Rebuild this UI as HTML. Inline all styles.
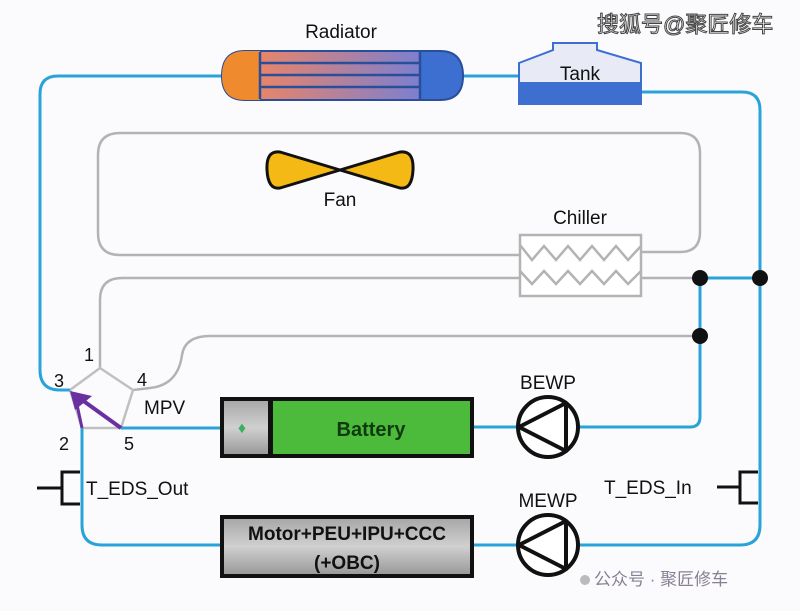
<!DOCTYPE html>
<html><head><meta charset="utf-8"><style>
body{margin:0;background:#fbfbfd;}
svg{display:block;font-family:"Liberation Sans","Noto Sans CJK SC",sans-serif;}
</style></head><body>
<svg width="800" height="611" viewBox="0 0 800 611">
<defs>
<linearGradient id="rad" x1="0" x2="1"><stop offset="0" stop-color="#e8846a"/><stop offset="1" stop-color="#7d7fd0"/></linearGradient>
<linearGradient id="gr" x1="0" y1="0" x2="0" y2="1"><stop offset="0" stop-color="#a8a8a8"/><stop offset="0.5" stop-color="#d0d0d0"/><stop offset="1" stop-color="#9a9a9a"/></linearGradient>
</defs>
<rect width="800" height="611" fill="#fbfbfd"/>
<!-- gray loops -->
<g fill="none" stroke="#b3b3b3" stroke-width="2.5">
<path d="M520 255 H120 Q98 255 98 233 V155 Q98 133 120 133 H680 Q700 133 700 153 V232 Q700 252 680 252 H641"/>
<path d="M520 278 H122 Q100 278 100 300 V368"/>
<path d="M641 278 H700"/>
<path d="M700 336 H210 Q185 336 182 355 Q178 385 150 388 L133 390"/>
<path d="M100 368 L133 390 L121 428 L82 428 L70 390 Z" stroke="#c0c0c0"/>
</g>
<!-- blue loops -->
<g fill="none" stroke="#2aa3d8" stroke-width="3">
<path d="M222 76 H58 Q40 76 40 94 V370 Q40 390 60 390 L70 390"/>
<path d="M462 76 H520"/>
<path d="M638 92 H742 Q760 92 760 110 V525 Q760 545 740 545 H578"/>
<path d="M517 545 H474"/>
<path d="M220 545 H102 Q82 545 82 525 V428"/>
<path d="M121 428 H220"/>
<path d="M474 427 H517"/>
<path d="M578 427 H690 Q700 427 700 417 V278 H760"/>
</g>
<!-- dots -->
<circle cx="700" cy="278" r="8" fill="#111"/>
<circle cx="760" cy="278" r="8" fill="#111"/>
<circle cx="700" cy="336" r="8" fill="#111"/>
<!-- radiator -->
<path d="M245 51 H440 Q463 51 463 76 Q463 100 440 100 H245 Q222 100 222 76 Q222 51 245 51 Z" fill="#3d6fd0" stroke="#2a4f9a" stroke-width="2"/>
<path d="M245 51 H260 V100 H245 Q222 100 222 76 Q222 51 245 51 Z" fill="#ef8a2e"/>
<rect x="260" y="52" width="160" height="47" fill="url(#rad)"/>
<g stroke="#2a4f9a" stroke-width="2.5"><line x1="260" y1="52" x2="260" y2="99"/><line x1="420" y1="52" x2="420" y2="99"/><line x1="260" y1="63" x2="420" y2="63"/><line x1="260" y1="75" x2="420" y2="75"/><line x1="260" y1="87" x2="420" y2="87"/></g>
<text x="341" y="38" font-size="19" text-anchor="middle" fill="#111">Radiator</text>
<!-- tank -->
<path d="M519 63 L553 50 V43 H597 V50 L641 63 V104 H519 Z" fill="#e8ebf5" stroke="#3d6fd0" stroke-width="2"/>
<rect x="519" y="82" width="122" height="22" fill="#3d6fd0"/>
<text x="580" y="80" font-size="19" text-anchor="middle" fill="#111">Tank</text>
<!-- fan -->
<path d="M340 170 L280 152 Q266 150 267 170 Q268 190 280 188 Z M340 170 L400 152 Q414 150 413 170 Q412 190 400 188 Z" fill="#f5b915" stroke="#111" stroke-width="3" stroke-linejoin="round"/>
<text x="340" y="206" font-size="19" text-anchor="middle" fill="#111">Fan</text>
<!-- chiller -->
<rect x="520" y="235" width="121" height="61" fill="#fff" stroke="#b3b3b3" stroke-width="2.5"/>
<g fill="none" stroke="#b3b3b3" stroke-width="2.5">
<path d="M520 245 L532 260 L544 246 L556 260 L568 246 L580 260 L592 246 L604 260 L616 246 L628 260 L641 246"/>
<path d="M520 271 L532 284 L544 271 L556 284 L568 271 L580 284 L592 271 L604 284 L616 271 L628 284 L641 271"/>
</g>
<text x="580" y="224" font-size="19" text-anchor="middle" fill="#111">Chiller</text>
<!-- MPV -->
<line x1="121" y1="428" x2="78" y2="397" stroke="#6a2fa0" stroke-width="4"/>
<line x1="82" y1="428" x2="76" y2="400" stroke="#6a2fa0" stroke-width="3"/>
<path d="M70 391 L92 396 L75 410 Z" fill="#6a2fa0"/>
<g font-size="18" fill="#111">
<text x="84" y="361">1</text><text x="54" y="387">3</text><text x="137" y="386">4</text>
<text x="144" y="414" font-size="19">MPV</text>
<text x="59" y="450">2</text><text x="124" y="450">5</text>
</g>
<!-- sensors -->
<g stroke="#111" stroke-width="3" fill="none">
<path d="M37 488 H62 M80 472 H62 V504 H80"/>
<path d="M717 487 H740 M758 472 H740 V503 H758"/>
</g>
<text x="86" y="495" font-size="19" fill="#111">T_EDS_Out</text>
<text x="604" y="494" font-size="19" fill="#111">T_EDS_In</text>
<!-- battery -->
<rect x="220" y="397" width="254" height="61" fill="#111"/>
<rect x="224" y="401" width="44" height="53" fill="url(#gr)"/>
<rect x="273" y="401" width="197" height="53" fill="#4cba3a"/>
<text x="242" y="433" font-size="16" fill="#3bb060" font-weight="bold" text-anchor="middle">♦</text>
<text x="371" y="436" font-size="20" font-weight="bold" text-anchor="middle" fill="#0f3a10">Battery</text>
<!-- motor -->
<rect x="220" y="515" width="254" height="63" fill="#111"/>
<rect x="224" y="519" width="246" height="55" fill="url(#gr)"/>
<text x="347" y="540" font-size="19" font-weight="bold" text-anchor="middle" fill="#111">Motor+PEU+IPU+CCC</text>
<text x="347" y="569" font-size="19" font-weight="bold" text-anchor="middle" fill="#111">(+OBC)</text>
<!-- pumps -->
<g stroke="#111" stroke-width="4" fill="#fff">
<circle cx="548" cy="427" r="30"/><circle cx="548" cy="545" r="30"/>
</g>
<g stroke="#111" stroke-width="4" fill="none" stroke-linejoin="round">
<path d="M566 403 V451 L519 427 Z"/><path d="M566 521 V569 L519 545 Z"/>
</g>
<text x="548" y="389" font-size="19" text-anchor="middle" fill="#111">BEWP</text>
<text x="548" y="507" font-size="19" text-anchor="middle" fill="#111">MEWP</text>
<!-- watermarks -->
<text x="597" y="32" font-size="22" fill="#fff" stroke="#444" stroke-width="1">搜狐号@聚匠修车</text>
<circle cx="585" cy="580" r="5" fill="#bbb"/>
<text x="594" y="585" font-size="17" fill="#8a8096">公众号 · 聚匠修车</text>
</svg>
</body></html>
